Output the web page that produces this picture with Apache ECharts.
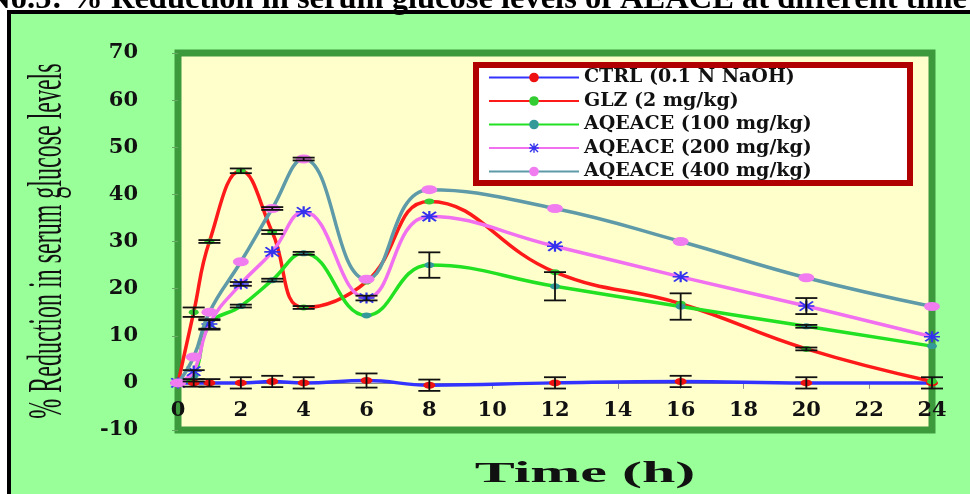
<!DOCTYPE html>
<html>
<head>
<meta charset="utf-8">
<script src="https://cdn.jsdelivr.net/npm/echarts@6/dist/echarts.min.js"></script>
<style>
  html, body { margin: 0; padding: 0; background: #ffffff; overflow: hidden; }
  #panel {
    position: absolute; left: 7px; top: 10px; width: 980px; height: 500px;
    background: #99FF99; border-left: 4px solid #000; border-top: 4px solid #000;
  }
  #chart { position: absolute; left: 0; top: 0; width: 970px; height: 494px; }
</style>
</head>
<body>
<div id="panel"></div>
<div id="chart"></div>
<script>
// Sampling times (h)
const times = [0, 0.5, 1, 2, 3, 4, 6, 8, 12, 16, 20, 24];

// Mean % reduction in serum glucose per group
const ctrl  = [0, 0, 0, 0, 0.3, 0, 0.5, -0.5, 0, 0.3, 0, 0];
const glz   = [0, 15, 30, 45, 32, 16, 21.5, 38.5, 23.5, 16.8, 7.2, 0.3];
const aq100 = [0, 1.5, 12.3, 16.3, 21.8, 27.5, 14.3, 25, 20.5, 16.2, 12, 7.8];
const aq200 = [0, 2.5, 12.5, 21, 27.8, 36.3, 18, 35.3, 29, 22.5, 16.3, 9.8];
const aq400 = [0, 5.5, 15, 25.7, 37, 47.5, 22, 41, 37, 30, 22.3, 16.2];

// Standard errors (0 = not drawn)
const ctrlErr  = [0, 0.8, 0.8, 1.2, 1.2, 1.2, 1.5, 1.2, 1.2, 1.2, 1.2, 1.2];
const glzErr   = [0, 1, 0.3, 0.5, 0.4, 0.3, 0, 0, 0, 0, 0.3, 0];
const aq100Err = [0, 1.2, 1.0, 0.3, 0.3, 0.3, 0, 2.7, 3.0, 2.8, 0.3, 0];
const aq200Err = [0, 0, 1.0, 0.4, 0, 0, 0.5, 0, 0, 0, 1.7, 0];
const aq400Err = [0, 0, 0, 0, 0.3, 0.3, 0, 0, 0, 0, 0, 0];

const seriesNames = ['CTRL (0.1 N NaOH)', 'GLZ (2 mg/kg)', 'AQEACE (100 mg/kg)', 'AQEACE (200 mg/kg)', 'AQEACE (400 mg/kg)'];
const yTicks = [-10, 0, 10, 20, 30, 40, 50, 60, 70];
const xTicks = [0, 2, 4, 6, 8, 10, 12, 14, 16, 18, 20, 22, 24];

const titleText = 'No.5: % Reduction in serum glucose levels of AEACE at different time';
const yTitle = '% Reduction in serum glucose levels';
const xTitle = 'Time (h)';

const starPath = 'path://M4.3,0h1.4v10h-1.4z M0,4.3h10v1.4h-10z M1.3,0.3L9.7,8.7L8.7,9.7L0.3,1.3z M8.7,0.3L9.7,1.3L1.3,9.7L0.3,8.7z';

function pairs(vals) { return times.map((t, i) => [t, vals[i]]); }
function errs(vals, e) {
  const out = [];
  times.forEach((t, i) => { if (e[i] > 0) out.push([t, vals[i], e[i]]); });
  return out;
}

const styles = [
  { line: '#3333FF', mark: '#EE1111', symbol: 'circle', size: [12, 7] },
  { line: '#FF1A1A', mark: '#33CC33', symbol: 'circle', size: [10, 6] },
  { line: '#22E022', mark: '#339999', symbol: 'circle', size: [10, 6] },
  { line: '#F070F0', mark: '#3333EE', symbol: starPath, size: [16, 11] },
  { line: '#5F9AA8', mark: '#F07CF0', symbol: 'circle', size: [16, 9] }
];
const values = [ctrl, glz, aq100, aq200, aq400];
const errors = [ctrlErr, glzErr, aq100Err, aq200Err, aq400Err];

// Plot frame: 70 at the top edge, -10 at the bottom edge
const gridTop = 53, gridBottom = 64, chartH = 494;
const plotH = chartH - gridTop - gridBottom;
const zeroFromBottom = plotH * (0 - yTicks[0]) / (yTicks[yTicks.length - 1] - yTicks[0]);

const lineSeries = values.map((v, k) => ({
  name: seriesNames[k],
  type: 'line',
  data: pairs(v),
  smooth: 0.45,
  symbol: styles[k].symbol,
  symbolSize: styles[k].size,
  showSymbol: true,
  lineStyle: { color: styles[k].line, width: 3.5 },
  itemStyle: { color: styles[k].mark },
  z: 2 + k * 0.1
}));

const errSeries = values.map((v, k) => ({
  type: 'custom',
  name: 'err' + k,
  data: errs(v, errors[k]),
  z: 4,
  silent: true,
  renderItem: function (params, api) {
    const x = api.value(0), y = api.value(1), e = api.value(2);
    const top = api.coord([x, y + e]);
    const bot = api.coord([x, y - e]);
    const hw = 11;
    const st = { stroke: '#111111', lineWidth: 1.8 };
    return {
      type: 'group',
      children: [
        { type: 'line', shape: { x1: top[0], y1: top[1], x2: bot[0], y2: bot[1] }, style: st },
        { type: 'line', shape: { x1: top[0] - hw, y1: top[1], x2: top[0] + hw, y2: top[1] }, style: st },
        { type: 'line', shape: { x1: bot[0] - hw, y1: bot[1], x2: bot[0] + hw, y2: bot[1] }, style: st }
      ]
    };
  }
}));

const chart = echarts.init(document.getElementById('chart'), null, { renderer: 'canvas' });
chart.setOption({
  backgroundColor: 'transparent',
  animation: false,
  grid: {
    left: 178, right: 38, top: gridTop, bottom: gridBottom,
    show: true, backgroundColor: '#FFFFCC', borderColor: '#3C9A3C', borderWidth: 7
  },
  xAxis: {
    type: 'value', min: xTicks[0], max: xTicks[xTicks.length - 1], interval: 2,
    position: 'bottom',
    offset: -zeroFromBottom,
    axisLine: { onZero: false, show: true, lineStyle: { color: '#8a8a8a', width: 1 } },
    axisTick: { show: true, inside: false, length: 6, lineStyle: { color: '#8a8a8a' } },
    axisLabel: {
      margin: 17, color: '#111', fontFamily: 'DejaVu Serif', fontWeight: 'bold', fontSize: 21,
      formatter: v => xTicks.includes(v) ? String(v) : ''
    },
    splitLine: { show: false }
  },
  yAxis: {
    type: 'value', min: yTicks[0], max: yTicks[yTicks.length - 1], interval: 10,
    axisLine: { show: false },
    axisTick: { show: true, length: 6, lineStyle: { color: '#66AA66' } },
    axisLabel: {
      margin: 40, color: '#111', fontFamily: 'DejaVu Serif', fontWeight: 'bold', fontSize: 21,
      formatter: v => yTicks.includes(v) ? String(v) : ''
    },
    splitLine: { show: false }
  },
  legend: {
    data: seriesNames,
    orient: 'vertical',
    left: 476, top: 65,
    padding: [3, 8, 2, 12],
    itemWidth: 90, itemHeight: 12, itemGap: 4.5,
    backgroundColor: '#FFFFFF',
    borderColor: '#B00000', borderWidth: 6, borderRadius: 0,
    textStyle: {
      fontFamily: 'DejaVu Serif', fontWeight: 'bold', fontSize: 19, color: '#111',
      lineHeight: 18, width: 318
    }
  },
  graphic: [
    {
      type: 'text', x: 967, y: 16.5, z: 10,
      style: {
        text: titleText, fill: '#000', textAlign: 'right', textVerticalAlign: 'bottom',
        font: 'bold 32.5px "Liberation Serif"'
      }
    },
    {
      type: 'text', x: 48, y: 241, rotation: Math.PI / 2, scaleY: 2.0, z: 10,
      style: {
        text: yTitle, fill: '#111', textAlign: 'center', textVerticalAlign: 'middle',
        font: 'normal 24px "Liberation Serif"'
      }
    },
    {
      type: 'text', x: 585, y: 474, scaleX: 2.0, z: 10,
      style: {
        text: xTitle, fill: '#111', textAlign: 'center', textVerticalAlign: 'middle',
        font: 'bold 30px "Liberation Serif"'
      }
    }
  ],
  series: lineSeries.concat(errSeries)
});
</script>
</body>
</html>
